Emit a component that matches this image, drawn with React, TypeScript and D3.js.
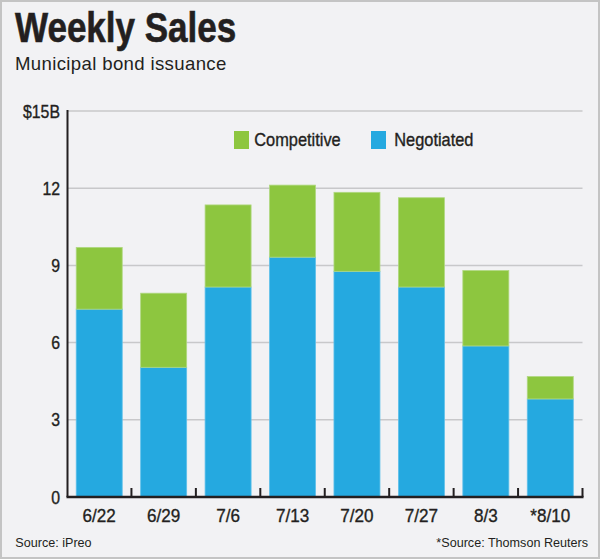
import React from 'react';
import * as d3 from 'd3';

const categories = ['6/22', '6/29', '7/6', '7/13', '7/20', '7/27', '8/3', '*8/10'];
const negotiated = [7.3, 5.04, 8.16, 9.32, 8.77, 8.16, 5.87, 3.81];
const competitive = [2.4, 2.88, 3.19, 2.8, 3.07, 3.47, 2.93, 0.87];
const yTicks = [0, 3, 6, 9, 12, 15];
const yTickLabels = ['0', '3', '6', '9', '12', '$15B'];
const seriesNames = ['Competitive', 'Negotiated'];

const W = 600;
const H = 559;
const GREEN = '#8dc63f';
const BLUE = '#25a9e0';
const INK = '#231f20';
const FONT = "'Liberation Sans', Arial, Helvetica, sans-serif";

type CTProps = {
  x: number; y: number; sx: number; size: number; anchor?: string; weight?: string;
  thick?: number; spacing?: number; children: React.ReactNode;
};
function CText({ x, y, sx, size, anchor = 'start', weight = 'normal', thick = 0, spacing = 0, children }: CTProps) {
  return (
    <text
      transform={`translate(${x},${y}) scale(${sx},1)`}
      textAnchor={anchor}
      fontFamily={FONT}
      fontWeight={weight}
      fontSize={size}
      letterSpacing={spacing}
      fill={INK}
      stroke={thick > 0 ? INK : 'none'}
      strokeWidth={thick}
    >
      {children}
    </text>
  );
}

export default function App() {
  const x = d3.scaleBand<string>().domain(categories).range([67, 582.5]).paddingInner(0.286).paddingOuter(0.143);
  const y = d3.scaleLinear().domain([0, 15]).range([497, 111]);
  const step = x.step();
  const x0 = 67;
  const stacked = categories.map((c, i) => ({ c, neg: negotiated[i], comp: competitive[i] }));

  return (
    <svg width={W} height={H} style={{ position: 'absolute', left: 0, top: 0 }}>
      <rect x={1} y={1} width={W - 2} height={H - 2} fill="#f2f2f4" stroke="#c4c4c4" strokeWidth={2} />
      <CText x={15} y={42} sx={0.834} size={42} weight="bold" thick={0.6}>Weekly Sales</CText>
      <CText x={15} y={70} sx={1} size={18.6} spacing={0.35}>Municipal bond issuance</CText>

      {yTicks.filter(t => t > 0).map(t => (
        <line key={t} x1={68} x2={582.5} y1={y(t)} y2={y(t)} stroke="#c8c8ca" strokeWidth={1.5} />
      ))}

      {stacked.map(d => (
        <g key={d.c}>
          <rect x={x(d.c)} y={y(d.neg)} width={x.bandwidth()} height={y(0) - y(d.neg)} fill={BLUE} stroke="#5fc0ea" strokeWidth={0.8} />
          <rect x={x(d.c)} y={y(d.neg + d.comp)} width={x.bandwidth()} height={y(d.neg) - y(d.neg + d.comp)} fill={GREEN} stroke="#b0d880" strokeWidth={0.8} />
        </g>
      ))}

      <line x1={67.5} x2={67.5} y1={110} y2={497} stroke={INK} strokeWidth={2} />
      <line x1={66.5} x2={583.5} y1={497} y2={497} stroke={INK} strokeWidth={2.5} />
      {categories.map((c, i) => (
        <line key={c} x1={x0 + step * (i + 1)} x2={x0 + step * (i + 1)} y1={497} y2={488} stroke={INK} strokeWidth={2} />
      ))}

      {yTicks.map((t, i) => (
        <CText key={t} x={60} y={y(t) + 6.5} sx={0.9} size={17.6} anchor="end" thick={0.35}>{yTickLabels[i]}</CText>
      ))}
      {categories.map(c => (
        <CText key={c} x={(x(c) as number) + x.bandwidth() / 2} y={521.7} sx={0.92} size={18.6} anchor="middle" thick={0.35}>{c}</CText>
      ))}

      <rect x={234} y={131} width={15} height={18} fill={GREEN} />
      <CText x={254.3} y={146} sx={0.91} size={18} thick={0.35}>{seriesNames[0]}</CText>
      <rect x={371} y={131} width={15} height={18} fill={BLUE} />
      <CText x={394.3} y={146} sx={0.91} size={18} thick={0.35}>{seriesNames[1]}</CText>

      <CText x={15.3} y={547} sx={1} size={12.6}>Source: iPreo</CText>
      <CText x={588} y={547} sx={1} size={12.6} anchor="end">*Source: Thomson Reuters</CText>
    </svg>
  );
}
